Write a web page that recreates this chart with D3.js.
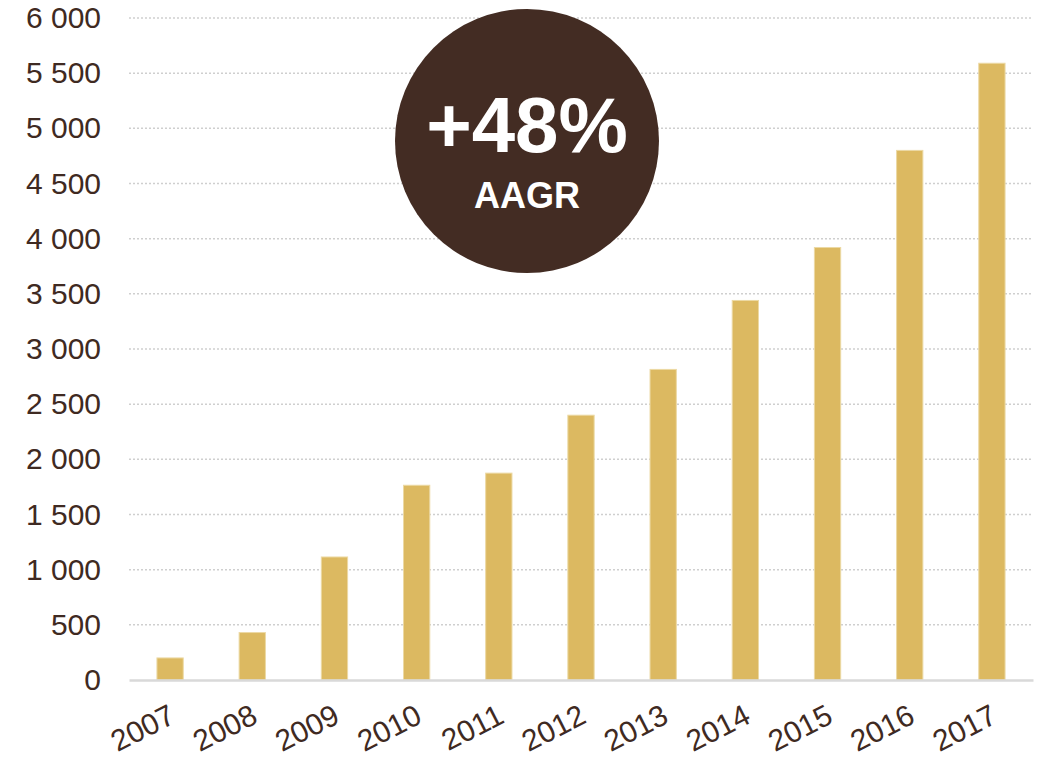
<!DOCTYPE html>
<html>
<head>
<meta charset="utf-8">
<script src="https://cdn.jsdelivr.net/npm/d3@7"></script>
<style>
  body { margin: 0; background: #fff; }
  svg text { font-family: "Liberation Sans", Arial, sans-serif; }
</style>
</head>
<body>
<svg id="chart"></svg>
<script>
var years = ["2007", "2008", "2009", "2010", "2011", "2012", "2013", "2014", "2015", "2016", "2017"]
var values = [200, 430, 1115, 1765, 1875, 2400, 2815, 3440, 3920, 4800, 5590]
var yTicks = [0, 500, 1000, 1500, 2000, 2500, 3000, 3500, 4000, 4500, 5000, 5500, 6000]
var badgeValue = "+48%"
var badgeLabel = "AAGR"

var dimensions = {
        width: 1038,
        height: 759,
        margin: {
        top: 18,
        bottom: 79,
        right: 5,
        left: 129
        }
}
dimensions.boundedWidth = dimensions.width - dimensions.margin.left - dimensions.margin.right
dimensions.boundedHeight = dimensions.height - dimensions.margin.top - dimensions.margin.bottom

var textColor = "#3f2a22"

var svg = d3.select("#chart")
        .attr("width", dimensions.width)
        .attr("height", dimensions.height)

var bounds = svg.append("g")
        .attr("transform", "translate(" + dimensions.margin.left + "," + dimensions.margin.top + ")")

var xScale = d3.scaleBand()
        .domain(years)
        .range([0, dimensions.boundedWidth])
        .paddingInner(0.68)
        .paddingOuter(0.34)

var yScale = d3.scaleLinear()
        .domain([0, 6000])
        .range([dimensions.boundedHeight, 0])

var fmt = d3.formatLocale({ decimal: ",", thousands: " ", grouping: [3] }).format(",")

// dotted gridlines
bounds.append("g")
        .selectAll("line")
        .data(yTicks.filter(function(d) { return d > 0 }))
        .enter()
        .append("line")
        .attr("x1", 0)
        .attr("x2", dimensions.boundedWidth)
        .attr("y1", function(d) { return yScale(d) })
        .attr("y2", function(d) { return yScale(d) })
        .attr("stroke", "#cfcfcf")
        .attr("stroke-width", 1.5)
        .attr("stroke-dasharray", "2,2")

// y axis labels
var yAxis = bounds.append("g")
        .call(d3.axisLeft(yScale).tickValues(yTicks).tickFormat(fmt).tickSize(0).tickPadding(28))
yAxis.select(".domain").remove()
yAxis.selectAll("text")
        .attr("fill", textColor)
        .style("font-size", "30px")

// bars
bounds.selectAll(".bar")
        .data(values)
        .enter()
        .append("rect")
        .attr("class", "bar")
        .attr("x", function(d, i) { return xScale(years[i]) })
        .attr("width", xScale.bandwidth())
        .attr("y", function(d) { return yScale(d) })
        .attr("height", function(d) { return dimensions.boundedHeight - yScale(d) })
        .attr("fill", "#dcb961")
        .attr("stroke", "#ecd9a4")
        .attr("stroke-width", 1)

// x axis
var xAxis = bounds.append("g")
        .attr("transform", "translate(0," + dimensions.boundedHeight + ")")
        .call(d3.axisBottom(xScale).tickSize(0).tickPadding(0))
xAxis.select(".domain")
        .attr("stroke", "#d9d9d9")
        .attr("stroke-width", 2.5)
xAxis.selectAll("text")
        .attr("fill", textColor)
        .style("font-size", "30px")
        .attr("text-anchor", "end")
        .attr("dy", 0)
        .attr("transform", "translate(7,42) rotate(-27)")

// badge
var badge = svg.append("g")
        .attr("transform", "translate(527,141)")
badge.append("circle")
        .attr("r", 132)
        .attr("fill", "#432c23")
badge.append("text")
        .attr("text-anchor", "middle")
        .attr("y", 11)
        .attr("fill", "#fff")
        .style("font-size", "78px")
        .style("font-weight", "bold")
        .text(badgeValue)
badge.append("text")
        .attr("text-anchor", "middle")
        .attr("y", 67)
        .attr("fill", "#fff")
        .style("font-size", "36px")
        .style("font-weight", "bold")
        .text(badgeLabel)
</script>
</body>
</html>
